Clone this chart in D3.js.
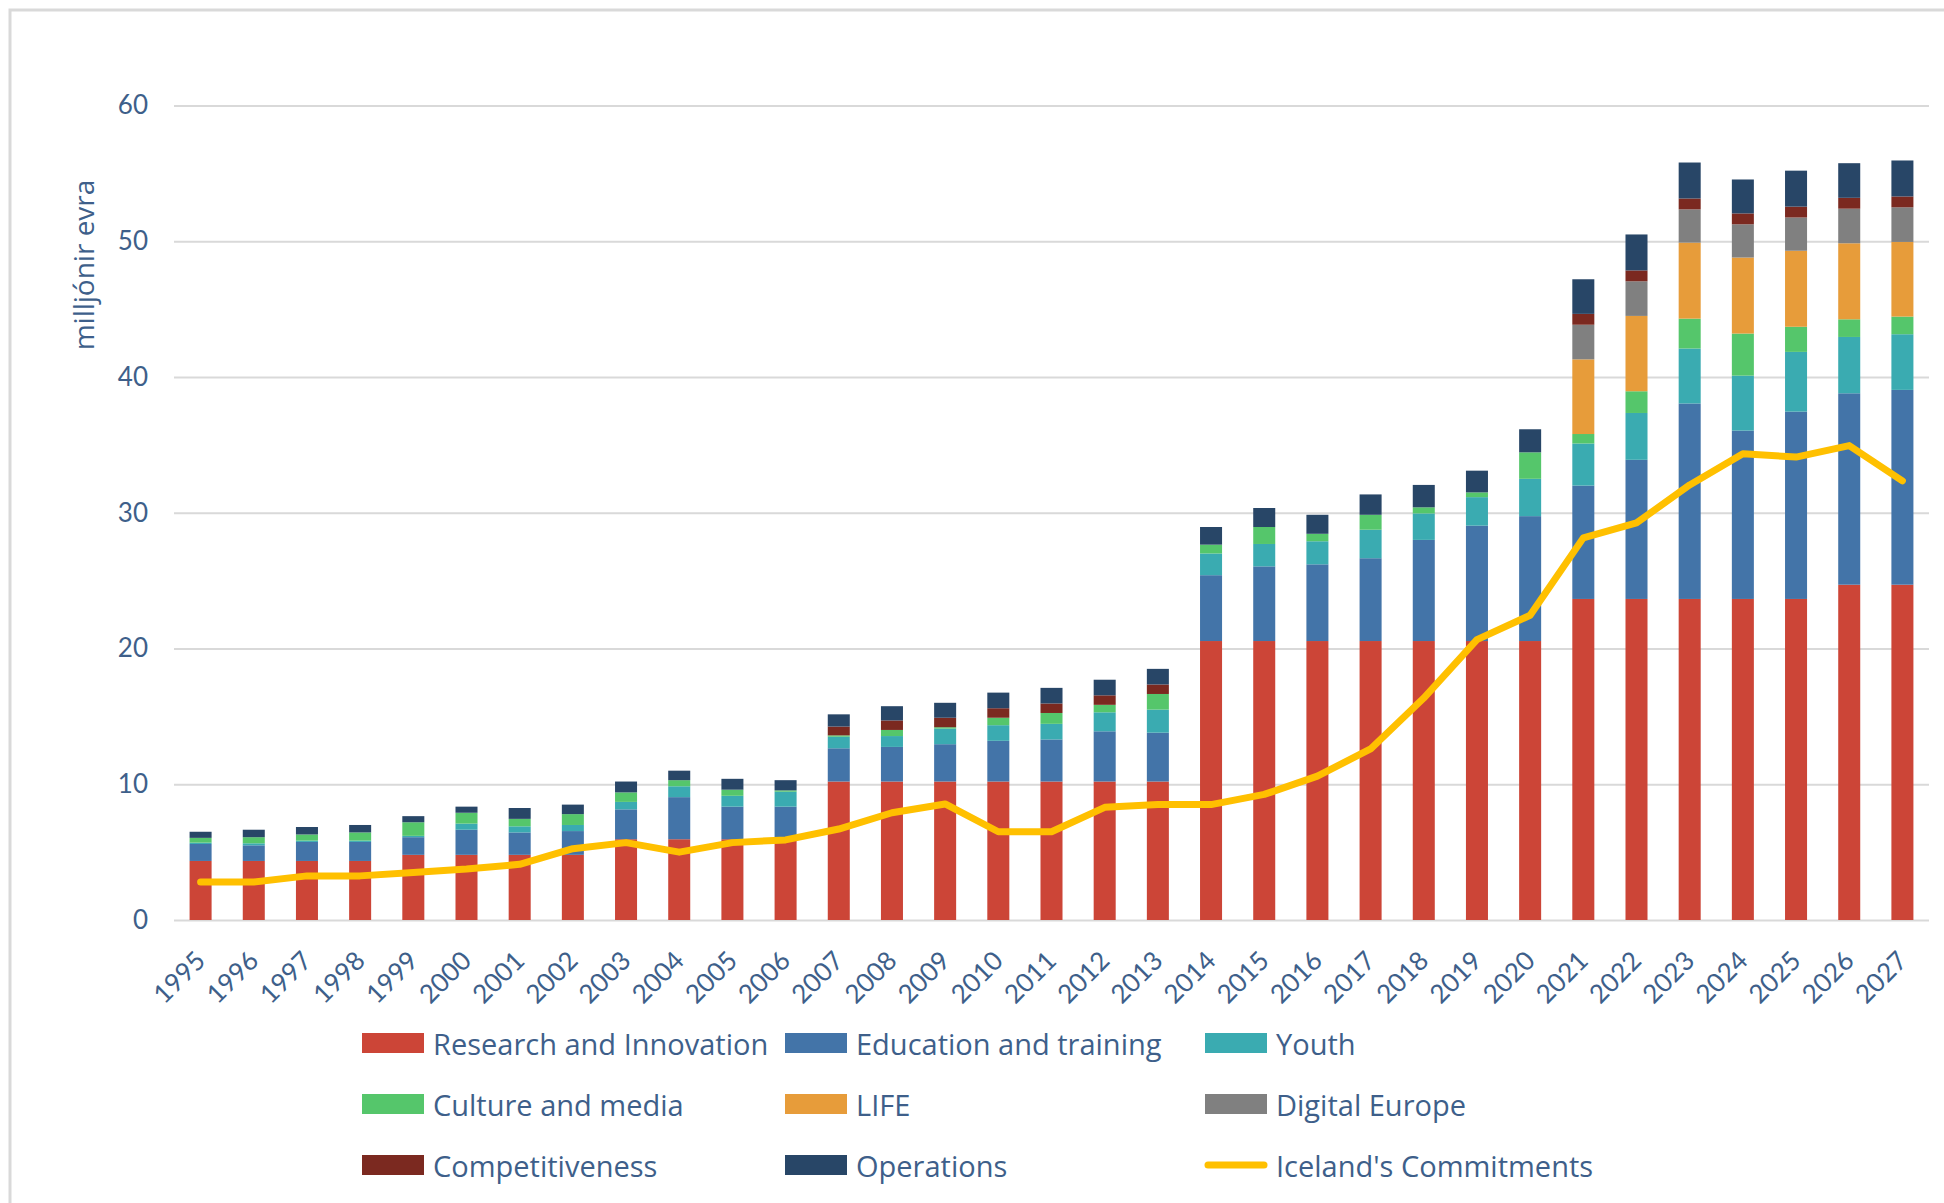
<!DOCTYPE html>
<html>
<head>
<meta charset="utf-8">
<script src="https://cdn.jsdelivr.net/npm/d3@7"></script>
<style>
  body { margin: 0; background: #fff; }
  text { font-family: Lato, "Open Sans", sans-serif; fill: #3e5f8a; }
</style>
</head>
<body>
<svg id="chart" width="1944" height="1203"></svg>
<script>
const years = ["1995","1996","1997","1998","1999","2000","2001","2002","2003","2004","2005",
  "2006","2007","2008","2009","2010","2011","2012","2013","2014","2015","2016","2017",
  "2018","2019","2020","2021","2022","2023","2024","2025","2026","2027"];

const research    = [4.35,4.35,4.35,4.35,4.8,4.8,4.8,4.8,5.95,5.95,5.95,5.95,10.2,10.2,10.2,10.2,10.2,10.2,10.2,
                     20.55,20.55,20.55,20.55,20.55,20.55,20.55,23.65,23.65,23.65,23.65,23.65,24.7,24.7];
const education   = [1.25,1.15,1.4,1.4,1.3,1.85,1.65,1.75,2.2,3.1,2.4,2.4,2.45,2.55,2.75,3.0,3.1,3.7,3.6,
                     4.85,5.5,5.65,6.1,7.45,8.5,9.2,8.35,10.25,14.4,12.4,13.8,14.1,14.35];
const youth       = [0.1,0.15,0.1,0.1,0.1,0.45,0.45,0.45,0.55,0.8,0.8,1.1,0.85,0.8,1.15,1.15,1.15,1.4,1.7,
                     1.6,1.65,1.7,2.1,1.95,2.1,2.75,3.1,3.45,4.05,4.05,4.4,4.15,4.1];
const culture     = [0.35,0.45,0.45,0.6,1.0,0.8,0.55,0.8,0.7,0.45,0.45,0.1,0.1,0.45,0.1,0.55,0.8,0.55,1.15,
                     0.65,1.25,0.55,1.1,0.45,0.35,1.95,0.7,1.6,2.2,3.1,1.85,1.3,1.3];
const life        = [0,0,0,0,0,0,0,0,0,0,0,0,0,0,0,0,0,0,0,
                     0,0,0,0,0,0,0,5.5,5.55,5.6,5.6,5.6,5.6,5.5];
const digital     = [0,0,0,0,0,0,0,0,0,0,0,0,0,0,0,0,0,0,0,
                     0,0,0,0,0,0,0,2.55,2.55,2.45,2.45,2.45,2.55,2.55];
const competitive = [0,0,0,0,0,0,0,0,0,0,0,0,0.65,0.7,0.7,0.7,0.7,0.7,0.7,
                     0,0,0,0,0,0,0,0.8,0.8,0.8,0.8,0.8,0.8,0.8];
const operations  = [0.45,0.55,0.55,0.55,0.45,0.45,0.8,0.7,0.8,0.7,0.8,0.75,0.9,1.05,1.1,1.15,1.15,1.15,1.15,
                     1.3,1.4,1.4,1.5,1.65,1.6,1.7,2.55,2.65,2.65,2.5,2.65,2.55,2.65];
const commitments = [2.8,2.8,3.25,3.25,3.5,3.75,4.1,5.25,5.7,5.0,5.7,5.9,6.7,7.9,8.55,6.5,6.5,8.3,8.5,
                     8.5,9.25,10.6,12.6,16.35,20.65,22.45,28.15,29.25,32.05,34.35,34.1,34.95,32.35];

const seriesNames = ["Research and Innovation","Education and training","Youth","Culture and media",
  "LIFE","Digital Europe","Competitiveness","Operations"];
const seriesValues = [research, education, youth, culture, life, digital, competitive, operations];
const seriesColors = ["#cc4537","#4374a8","#3aabb1","#55c66b","#e79c3a","#808080","#7b2920","#284667"];
const lineName = "Iceland's Commitments";
const lineColor = "#ffc000";
const yTicks = [0,10,20,30,40,50,60];

const svg = d3.select("#chart");

// frame
svg.append("rect").attr("x", 10).attr("y", 10).attr("width", 2000).attr("height", 2000)
  .attr("fill", "none").attr("stroke", "#d9d9d9").attr("stroke-width", 3);

const plotLeft = 174, plotRight = 1929, plotTop = 105.5, plotBottom = 920;

const x = d3.scaleBand().domain(years).range([plotLeft, plotRight]).paddingInner(0.586).paddingOuter(0.293);
const y = d3.scaleLinear().domain([0, 60]).range([plotBottom, plotTop]);

// y axis + gridlines
const yAxis = svg.append("g").attr("transform", `translate(${plotLeft},0)`)
  .call(d3.axisLeft(y).tickValues(yTicks).tickSize(-(plotRight - plotLeft)).tickPadding(26));
yAxis.select(".domain").remove();
yAxis.selectAll(".tick line").attr("stroke", "#d9d9d9").attr("stroke-width", 2);
yAxis.selectAll(".tick text").attr("font-size", 26).attr("fill", "#3e5f8a")
  .attr("font-family", "Lato, sans-serif");

// stacked bars
const rows = years.map((yr, i) => {
  const r = { year: yr };
  seriesNames.forEach((n, k) => r[n] = seriesValues[k][i]);
  return r;
});
const stacked = d3.stack().keys(seriesNames)(rows);

svg.append("g").selectAll("g").data(stacked).join("g")
  .attr("fill", (d, i) => seriesColors[i])
  .selectAll("rect").data(d => d).join("rect")
  .attr("x", d => x(d.data.year))
  .attr("width", x.bandwidth())
  .attr("y", d => y(d[1]))
  .attr("height", d => Math.max(0, y(d[0]) - y(d[1])));

// commitments line
const line = d3.line().x((d, i) => x(years[i]) + x.bandwidth() / 2).y(d => y(d));
svg.append("path").datum(commitments).attr("d", line)
  .attr("fill", "none").attr("stroke", lineColor).attr("stroke-width", 7)
  .attr("stroke-linejoin", "round").attr("stroke-linecap", "round");

// x axis labels
const xAxis = svg.append("g").attr("transform", `translate(0,${plotBottom})`)
  .call(d3.axisBottom(x).tickSize(0));
xAxis.select(".domain").remove();
xAxis.selectAll(".tick text")
  .attr("y", 0).attr("dy", "0.35em")
  .attr("transform", "translate(0,36) rotate(-45)")
  .attr("text-anchor", "end")
  .attr("font-size", 26).attr("fill", "#3e5f8a").attr("font-family", "Lato, sans-serif");

// y axis title
svg.append("text").attr("transform", "translate(83,265) rotate(-90)")
  .attr("text-anchor", "middle").attr("dominant-baseline", "central")
  .style("font-family", "'Open Sans', sans-serif")
  .attr("font-size", 28).text("milljónir evra");

// legend
const legendCols = [362, 785, 1205];
const legendRows = [1043, 1104, 1165];
const legendItems = seriesNames.map((n, i) => ({ name: n, color: seriesColors[i], type: "bar" }))
  .concat([{ name: lineName, color: lineColor, type: "line" }]);

const lg = svg.append("g").selectAll("g").data(legendItems).join("g")
  .attr("transform", (d, i) => `translate(${legendCols[i % 3]},${legendRows[Math.floor(i / 3)]})`);
lg.filter(d => d.type === "bar").append("rect")
  .attr("x", 0).attr("y", -10).attr("width", 62).attr("height", 20).attr("fill", d => d.color);
lg.filter(d => d.type === "line").append("line")
  .attr("x1", 3).attr("x2", 59).attr("y1", 0).attr("y2", 0)
  .attr("stroke", d => d.color).attr("stroke-width", 7).attr("stroke-linecap", "round");
lg.append("text").attr("x", 71).attr("y", 0).attr("dominant-baseline", "central")
  .style("font-family", "'Open Sans', sans-serif")
  .attr("font-size", 29).text(d => d.name);
</script>
</body>
</html>
